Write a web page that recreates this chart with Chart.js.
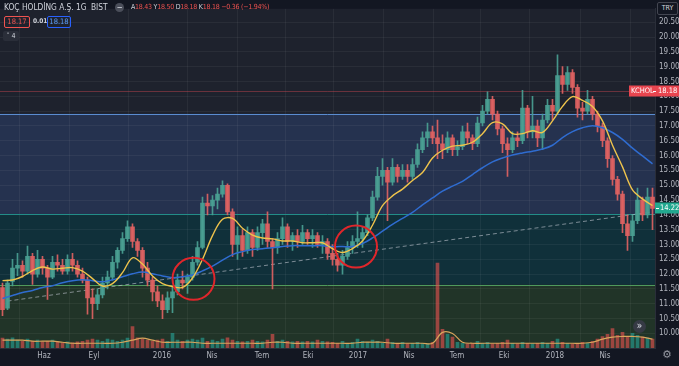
<!DOCTYPE html>
<html><head><meta charset="utf-8">
<script src="https://cdn.jsdelivr.net/npm/chart.js@4.4.0/dist/chart.umd.min.js"></script>
<style>
html,body{margin:0;padding:0;background:#131722;}
#wrap{position:relative;width:679px;height:366px;overflow:hidden;font-family:'Liberation Sans Narrow','DejaVu Sans Condensed',Roboto,sans-serif;}
canvas{position:absolute;left:0;top:0;}
.ov{position:absolute;white-space:nowrap;line-height:1;}
.r{color:#ef5350;}
</style></head><body>
<div id="wrap">
<canvas id="c" width="679" height="366"></canvas>
<div class="ov" style="left:4px;top:3px;font-size:8.3px;color:#d1d4dc;">KOÇ HOLDİNG A.Ş.</div>
<div class="ov" style="left:76px;top:3px;font-size:8.3px;color:#d1d4dc;">1G</div>
<div class="ov" style="left:91px;top:3px;font-size:8.3px;color:#d1d4dc;">BIST</div>
<div class="ov" style="left:115px;top:3px;width:9px;height:9px;border-radius:50%;background:#4a4e5a;color:#e0e3eb;font-size:8px;text-align:center;line-height:9px;">−</div>
<div class="ov" style="left:131px;top:4px;font-size:7px;letter-spacing:-0.25px;color:#d1d4dc;">A<span class="r">18.43</span> Y<span class="r">18.50</span> D<span class="r">18.18</span> K<span class="r">18.18</span> <span class="r">−0.36 (−1.94%)</span></div>
<div class="ov" style="left:4px;top:16px;width:24px;height:10px;border:1px solid #ef5350;border-radius:2px;color:#ef5350;font-size:7.5px;text-align:center;line-height:10px;">18.17</div>
<div class="ov" style="left:33px;top:18px;font-size:6.5px;font-weight:bold;color:#d1d4dc;">0.01</div>
<div class="ov" style="left:47px;top:16px;width:22px;height:10px;border:1px solid #2962ff;border-radius:2px;color:#5b9cf6;font-size:7.5px;text-align:center;line-height:10px;">18.18</div>
<div class="ov" style="left:3px;top:31px;width:16px;height:10px;border-radius:2px;background:#2a2e39;color:#d1d4dc;font-size:7px;text-align:center;line-height:10px;">˅ 4</div>
<div class="ov" style="left:657px;top:2px;width:19px;height:11px;border:1px solid #434651;border-radius:2px;background:#131722;color:#d1d4dc;font-size:7px;text-align:center;line-height:11px;">TRY</div>
<div class="ov" style="left:633px;top:320px;width:13px;height:13px;border-radius:50%;background:#363a45;color:#e0e3eb;font-size:10px;text-align:center;line-height:12px;">»</div>
<div class="ov" style="left:662px;top:349px;font-size:11px;color:#9598a1;font-family:'DejaVu Sans',sans-serif;">⚙</div>
</div>
<script>
// ---- data ----
const periods = Array.from({length:131},(_,i)=>i);
const opens = [11.55,10.85,11.75,12.20,12.30,12.10,12.60,12.00,12.50,12.20,11.90,12.40,12.30,12.10,12.50,12.30,12.00,11.80,11.20,11.00,
11.30,11.70,11.90,12.40,12.80,13.20,13.60,13.10,12.80,12.20,11.80,11.40,11.10,10.80,11.20,11.40,11.80,11.70,11.90,12.40,
12.90,14.40,14.30,14.50,14.70,15.00,14.10,13.00,13.30,12.80,13.40,12.90,13.40,13.70,13.10,12.90,13.20,13.60,13.10,13.30,
13.10,13.40,13.20,13.30,13.00,13.10,12.70,12.50,12.30,12.60,12.90,13.10,13.20,13.40,13.90,14.60,15.30,15.50,15.10,15.60,
15.30,15.50,15.30,15.70,16.20,16.60,16.80,16.60,16.40,16.20,16.60,16.20,16.30,16.80,16.60,16.40,17.10,17.50,17.90,17.40,
16.90,16.40,16.20,16.60,16.50,17.60,16.80,17.00,16.60,17.20,17.70,17.50,18.70,18.40,18.80,18.30,17.60,17.50,17.90,17.40,
17.00,16.50,15.90,15.20,14.70,13.70,13.30,13.80,14.50,14.00,14.60];
const highs = [11.70,11.80,12.50,12.70,12.45,12.95,12.70,12.80,12.60,12.30,12.60,12.65,12.50,12.65,12.70,12.45,12.20,11.90,11.50,11.50,
11.90,12.10,12.60,12.90,13.40,13.80,13.70,13.20,12.90,12.40,11.90,11.60,11.30,11.40,11.60,12.00,12.10,12.00,12.60,13.10,
14.60,14.70,14.65,14.90,15.15,15.05,14.20,13.60,13.50,13.60,13.50,13.60,13.85,14.10,13.20,13.40,13.90,13.70,13.40,13.50,
13.65,13.50,13.50,13.40,13.30,13.20,13.00,12.70,12.80,13.10,13.30,14.10,13.60,14.00,14.80,15.60,15.90,15.60,15.90,15.70,
15.70,15.70,15.90,16.40,16.80,17.10,17.00,17.20,16.70,16.80,16.70,16.50,17.00,17.10,16.70,17.30,17.70,18.15,18.00,17.50,
17.00,16.60,16.80,16.80,18.20,17.70,18.00,17.20,17.40,17.90,17.90,19.40,19.00,19.00,18.90,18.40,17.80,18.20,18.00,17.50,
17.10,16.60,16.00,15.30,14.80,14.00,14.00,14.90,14.60,14.90,14.90];
const lows = [10.60,10.80,11.60,11.95,11.90,12.00,11.65,11.90,12.00,11.15,11.85,12.10,12.00,12.00,12.10,11.90,11.70,10.65,10.50,10.80,
11.20,11.50,11.80,12.20,12.70,13.10,12.90,12.60,11.90,11.60,11.10,10.90,10.50,10.70,10.70,11.30,11.50,11.35,11.80,12.30,
12.85,14.00,14.00,14.20,14.60,14.00,12.60,12.50,12.60,12.70,12.60,12.80,13.00,12.90,11.50,12.70,13.00,12.90,12.80,12.90,
13.00,13.00,12.90,12.90,12.70,12.50,12.30,12.10,12.00,12.50,12.70,12.90,12.90,13.30,13.80,14.50,15.00,13.80,15.00,15.10,
15.20,15.10,15.20,15.60,16.10,16.30,16.40,15.90,15.90,16.10,16.00,16.00,16.20,16.40,16.20,16.30,17.00,17.40,17.20,16.70,
16.10,15.30,16.10,16.30,16.40,16.60,16.60,16.30,16.20,17.10,17.20,17.40,18.10,18.20,18.10,17.30,17.20,17.40,17.20,16.80,
16.30,15.60,15.00,14.50,13.40,12.80,13.10,13.70,13.80,13.90,13.50];
const closes = [10.80,11.70,12.20,12.30,12.10,12.60,12.00,12.50,12.20,11.90,12.40,12.30,12.10,12.50,12.30,12.00,11.80,11.20,11.00,11.30,
11.70,11.90,12.40,12.80,13.20,13.60,13.10,12.80,12.20,11.80,11.40,11.10,10.80,11.20,11.40,11.80,11.70,11.90,12.40,12.90,
14.40,14.30,14.50,14.70,15.00,14.10,13.00,13.30,12.80,13.40,12.90,13.40,13.70,13.10,12.90,13.20,13.60,13.10,13.30,13.10,
13.40,13.20,13.30,13.00,13.10,12.70,12.50,12.30,12.60,12.90,13.10,13.20,13.40,13.90,14.60,15.30,15.50,15.10,15.60,15.30,
15.50,15.30,15.70,16.20,16.60,16.80,16.60,16.40,16.20,16.60,16.20,16.30,16.80,16.60,16.40,17.10,17.50,17.90,17.40,16.90,
16.40,16.20,16.60,16.50,17.60,16.80,17.00,16.60,17.20,17.70,17.50,18.70,18.40,18.80,18.30,17.60,17.50,17.90,17.40,17.00,
16.50,15.90,15.20,14.70,13.70,13.30,13.80,14.50,14.00,14.60,14.22];
const volumes = [2.9,2.6,3.0,2.3,2.0,2.6, 2.0,2.3,1.8,2.0,2.3,1.8, 1.5,1.8,1.5,1.8,2.0,2.3, 2.6,2.3,2.0,2.6,2.3,2.0,
2.3,2.9,6.3,3.0,2.6,2.3, 2.0,2.3,2.6,2.0,4.3,2.3, 2.0,2.3,2.6,2.3,2.9,2.0, 2.3,2.0,2.6,3.0,2.3,2.0,
1.8,2.0,2.3,2.0,1.8,2.3, 4.0,2.0,2.3,2.0,1.8,2.0, 1.8,2.0,1.8,2.3,2.0,1.8, 1.7,1.4,2.0,1.4,1.7,2.6,
2.0,1.7,2.3,2.0,1.4,2.6, 1.7,1.4,1.7,1.2,1.4,1.7, 1.4,1.2,1.7,25.0,5.5,4.0, 3.2,1.7,1.4,1.2,1.4,2.0,
1.4,1.7,1.2,1.4,1.7,2.3, 1.4,1.2,1.7,1.4,1.2,1.4, 1.7,1.4,2.0,2.6,1.7,1.4, 1.2,1.4,1.7,1.4,2.0,2.6,
3.4,4.0,5.7,3.7,4.6,3.4, 4.3,3.7,3.2,2.9,2.6];
const maStep = 2;   // moving averages read at every second period
const ma50 = [11.78,11.80,11.92,12.12,12.24,12.17,12.20,12.22,12.10,11.85,
11.60,11.68,12.05,12.55,12.34,11.94,11.68,11.58,11.55,11.87,
12.50,13.30,13.85,13.88,13.55,13.32,13.22,13.19,13.12,13.12,
13.06,13.06,13.06,12.86,12.73,12.86,13.12,13.65,14.31,14.64,
14.87,15.16,15.43,15.92,16.18,16.32,16.35,16.45,16.74,17.11,
17.07,16.74,16.74,16.84,16.78,17.17,17.66,17.99,17.86,17.66,
17.17,16.35,15.62,14.84,14.54,14.31];
const ma200 = [11.18,11.28,11.38,11.45,11.55,11.61,11.71,11.78,11.81,11.78,
11.74,11.81,11.91,12.01,12.07,12.01,11.94,11.88,11.91,11.97,
12.11,12.27,12.47,12.66,12.76,12.83,12.86,12.89,12.93,12.96,
12.96,12.96,12.96,12.93,12.93,12.93,13.03,13.22,13.45,13.68,
13.88,14.08,14.34,14.57,14.80,14.97,15.13,15.36,15.59,15.79,
15.92,16.02,16.09,16.15,16.22,16.35,16.61,16.81,16.94,17.01,
16.94,16.78,16.55,16.25,15.99,15.72];
const volMa = [2.3,2.3,2.3,2.0,2.0,2.0,1.7,1.4,1.4,1.4,
1.4,1.4,1.7,2.3,2.9,2.3,1.7,1.7,1.7,1.7,
1.4,1.4,1.4,1.4,1.4,1.4,1.4,1.7,1.7,1.4,
1.4,1.4,1.4,1.4,1.4,1.4,1.7,1.7,1.7,1.4,
1.4,1.4,1.4,1.4,4.6,4.3,1.7,1.4,1.4,1.4,
1.4,1.4,1.4,1.4,1.4,1.4,1.4,1.4,1.4,1.7,
2.6,3.2,3.4,3.4,3.2,2.6];
const trendIdx = [1, 130];
const trendVal = [11.09, 14.10];
const circleIdx = [38.2, 70.7];
const circleVal = [11.84, 12.93];
const zoneTops = [17.41, 14.02, 11.64];
const compareVal = 18.18;
const compareName = 'KCHOL';
const lastVal = 14.22;
const priceTicks = [10,10.5,11,11.5,12,12.5,13,13.5,14,14.5,15,15.5,16,16.5,17,17.5,18,18.5,19,19.5,20,20.5];
const timeTickIdx = [8.3,18.3,31.9,41.9,51.9,61.1,71.1,81.3,90.9,100.3,110.5,120.5];
const timeTickLabels = ['Haz','Eyl','2016','Nis','Tem','Eki','2017','Nis','Tem','Eki','2018','Nis'];
const priceMin = 9.507, priceMax = 20.954;

// ---- build ----
const FONT = "'Liberation Sans Narrow','DejaVu Sans Condensed',Roboto,sans-serif";
Chart.defaults.font.family = FONT;
const isUp = closes.map((c,i)=>c>=opens[i]);
const candleCol = isUp.map(u=>u?'rgba(74,160,146,0.92)':'rgba(222,98,98,0.92)');
const volCol = isUp.map(u=>u?'rgba(38,166,154,0.6)':'rgba(239,83,80,0.6)');
const wickData = lows.map((l,i)=>[l,highs[i]]);
const bodyData = opens.map((o,i)=>[o,closes[i]]);
const toPts = arr => arr.map((v,k)=>({x:k*maStep,y:v}));

const overlay = {
  id:'overlay',
  beforeDraw(chart){
    const {ctx, chartArea:a, scales:{y}} = chart;
    ctx.save();
    ctx.fillStyle='#131722'; ctx.fillRect(0,0,chart.width,chart.height);
    ctx.fillStyle='#1e222d'; ctx.fillRect(a.left,a.top,a.right-a.left,a.bottom-a.top);
    const fills=['#25324f','#10303a','#213428'];
    zoneTops.forEach((v,k)=>{
      const t=y.getPixelForValue(v);
      const b=k+1<zoneTops.length?y.getPixelForValue(zoneTops[k+1]):a.bottom;
      ctx.fillStyle=fills[k]; ctx.fillRect(a.left,t,a.right-a.left,b-t);
    });
    ctx.restore();
  },
  beforeDatasetsDraw(chart){
    const {ctx, chartArea:a, scales:{y}} = chart;
    ctx.save();
    const lines=['#5a8cd0','#238d88','#4f9a5c'];
    zoneTops.forEach((v,k)=>{
      const t=Math.round(y.getPixelForValue(v))+0.5;
      ctx.strokeStyle=lines[k]; ctx.lineWidth=1;
      ctx.beginPath(); ctx.moveTo(a.left,t); ctx.lineTo(a.right,t); ctx.stroke();
    });
    const p=Math.round(y.getPixelForValue(compareVal))+0.5;
    ctx.strokeStyle='rgba(200,70,80,0.45)';
    ctx.beginPath(); ctx.moveTo(a.left,p); ctx.lineTo(a.right,p); ctx.stroke();
    ctx.restore();
  },
  afterDraw(chart){
    const {ctx, chartArea:a, scales:{y}} = chart;
    ctx.save();
    ctx.font = "7.5px "+FONT; ctx.textBaseline='middle';
    let p=Math.round(y.getPixelForValue(compareVal));
    ctx.fillStyle='#e8454f'; ctx.fillRect(a.right-26,p-5.5,chart.width-(a.right-26),11);
    ctx.fillStyle='#ffffff'; ctx.textAlign='left';
    ctx.fillText(compareName, a.right-24, p+0.5);
    ctx.fillRect(a.right-2,p,3,1);
    ctx.fillText(compareVal.toFixed(2), a.right+3, p+0.5);
    p=Math.round(y.getPixelForValue(lastVal));
    ctx.fillStyle='#22a88f'; ctx.fillRect(a.right,p-5.5,chart.width-a.right,11);
    ctx.fillStyle='#ffffff';
    ctx.fillRect(a.right+1,p,3,1);
    ctx.fillText(lastVal.toFixed(2), a.right+5, p+0.5);
    ctx.restore();
  }
};

new Chart(document.getElementById('c'), {
  type:'bar',
  data:{
    labels: periods,
    datasets:[
      {type:'bar', yAxisID:'yv', data:volumes, backgroundColor:volCol, barThickness:3, grouped:false, order:10},
      {type:'line', yAxisID:'yv', data:toPts(volMa), borderColor:'#d9a55c', borderWidth:1.2, pointRadius:0, tension:0.35, order:9},
      {type:'line', yAxisID:'y', data:trendIdx.map((x,k)=>({x, y:trendVal[k]})), borderColor:'rgba(195,200,210,0.6)', borderWidth:1, borderDash:[4,3], pointRadius:0, order:8},
      {type:'bar', yAxisID:'y', data:wickData, backgroundColor:candleCol, barThickness:1, grouped:false, order:7},
      {type:'bar', yAxisID:'y', data:bodyData, backgroundColor:candleCol, barThickness:4, grouped:false, order:6},
      {type:'line', yAxisID:'y', data:toPts(ma200), borderColor:'#2f6cd0', borderWidth:1.5, pointRadius:0, tension:0.35, order:5},
      {type:'line', yAxisID:'y', data:toPts(ma50), borderColor:'#eec34c', borderWidth:1.4, pointRadius:0, tension:0.35, order:4},
      {type:'bubble', yAxisID:'y', data:circleIdx.map((x,k)=>({x, y:circleVal[k]})), radius:21, borderColor:'#e0262b', borderWidth:2, backgroundColor:'rgba(0,0,0,0)', order:1}
    ]
  },
  options:{
    responsive:false, animation:false, devicePixelRatio:1, events:[],
    layout:{padding:0, autoPadding:false},
    plugins:{legend:{display:false}, tooltip:{enabled:false}},
    scales:{
      x:{type:'linear', min:-0.5, max:130.5, offset:false,
         grid:{color:'rgba(255,255,255,0.05)', drawTicks:false},
         border:{display:true, color:'#2a2e39'},
         ticks:{autoSkip:false, maxRotation:0, padding:3, color:'#b2b5be', font:{size:8},
                callback:(v)=>{const k=timeTickIdx.indexOf(v); return k>=0?timeTickLabels[k]:'';}},
         afterBuildTicks:(s)=>{s.ticks=timeTickIdx.map(v=>({value:v}));},
         afterFit:(s)=>{s.height=18;}},
      y:{position:'right', min:priceMin, max:priceMax,
         grid:{color:'rgba(255,255,255,0.05)', drawTicks:false},
         border:{display:true, color:'#2a2e39'},
         ticks:{padding:4, color:'#b2b5be', font:{size:8}, callback:(v)=>Number(v).toFixed(2)},
         afterBuildTicks:(s)=>{s.ticks=priceTicks.map(v=>({value:v}));},
         afterFit:(s)=>{s.width=24;}},
      yv:{display:false, min:0, max:100, position:'left'}
    }
  },
  plugins:[overlay]
});
</script>
</body></html>
